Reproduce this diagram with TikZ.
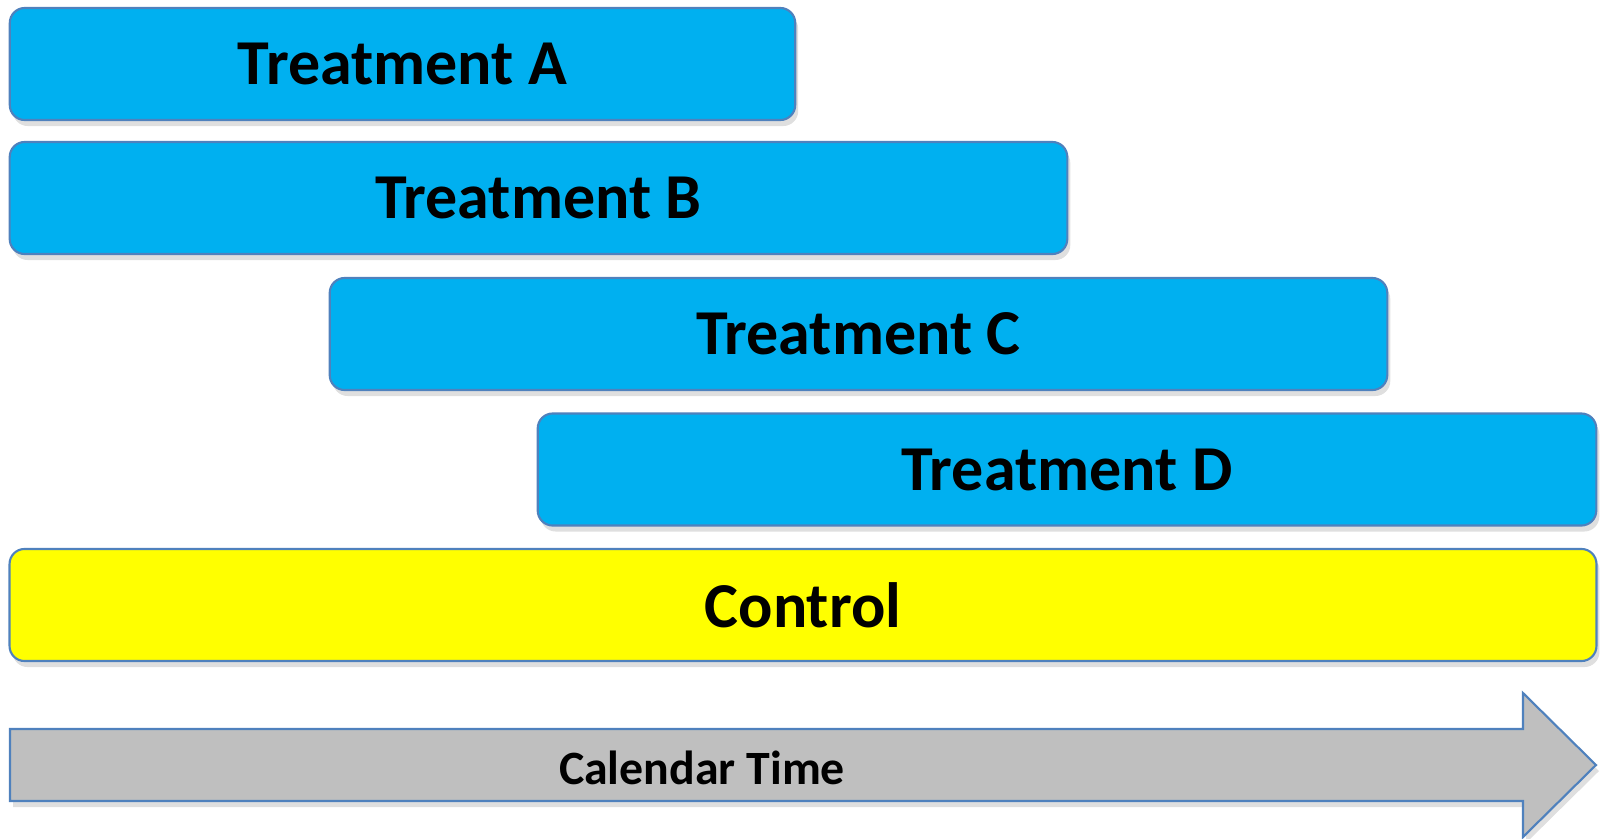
\documentclass[tikz,border=0pt]{standalone}
\usepackage{fontspec}
\setmainfont{Carlito}
\usetikzlibrary{shadows}
\definecolor{barblue}{HTML}{00B0F0}
\definecolor{barline}{HTML}{4F81BD}
\definecolor{baryellow}{HTML}{FFFF00}
\definecolor{timegray}{HTML}{BFBFBF}

\begin{document}
\begin{tikzpicture}[x=0.01cm,y=-0.01cm]
      \tikzset{bar/.style={draw=barline, line width=0.6pt, fill=barblue, rounded corners=0.15cm,
          minimum height=1.12cm, inner sep=0pt,
          drop shadow={shadow xshift=0.03cm, shadow yshift=-0.06cm, opacity=0.25},
          font=\fontsize{18.2}{22}\selectfont\bfseries}}
      \useasboundingbox (0,0) rectangle (1602,839);
      \node[bar, minimum width=7.85cm] (a) at (402.5,64) {Treatment A};
      \node[bar, minimum width=10.57cm] (b) at (538.5,198) {Treatment B};
      \node[bar, minimum width=10.57cm] (c) at (858.5,334) {Treatment C};
      \node[bar, minimum width=10.58cm] (d) at (1067,469.5) {Treatment D};
      \node[bar, fill=baryellow, minimum width=15.86cm] (ctrl) at (803,605) {Control};
      % time arrow
      \draw[draw=barline, line width=0.6pt, fill=timegray,
          drop shadow={shadow xshift=0.03cm, shadow yshift=-0.06cm, opacity=0.25}]
          (10,729) -- (1523,729) -- (1523,693) -- (1596,765) -- (1523,837)
          -- (1523,801) -- (10,801) -- cycle;
      \node[font=\fontsize{13.6}{16}\selectfont\bfseries] (time) at (702,768) {Calendar Time};
\end{tikzpicture}
\end{document}
